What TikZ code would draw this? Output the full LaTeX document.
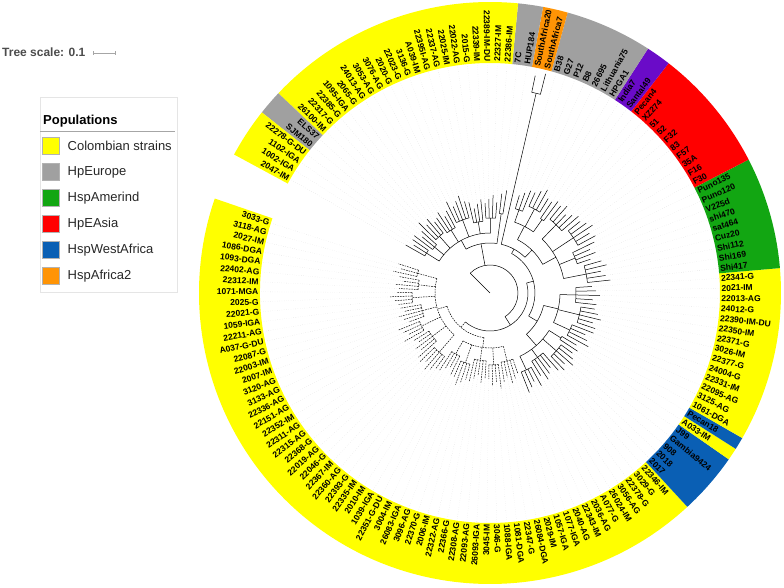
\documentclass[tikz,border=0pt]{standalone}
\usepackage{fontspec}
\setmainfont{Liberation Sans}
\usetikzlibrary{positioning}
\definecolor{popY}{HTML}{FFFF00}
\definecolor{popGr}{HTML}{A0A0A0}
\definecolor{popG}{HTML}{12A612}
\definecolor{popR}{HTML}{FF0000}
\definecolor{popB}{HTML}{0A5FB4}
\definecolor{popO}{HTML}{FF9405}
\definecolor{popP}{HTML}{6A0BC8}
\tikzset{
  tbr/.style={line width=0.5pt},
  dsh/.style={line width=0.5pt, dash pattern=on 1.6pt off 1pt},
  leader/.style={gray!40, line width=0.3pt, dotted},
  leaflabel/.style={font=\bfseries\fontsize{8.5}{9}\selectfont, inner sep=0.4pt},
  legtext/.style={font=\fontsize{13}{15}\selectfont, text=black!85},
}
% angle of leaf number #1 on the circle
\pgfmathdeclarefunction{lang}{1}{\pgfmathparse{162.3+(#1-1)*2.486}}
\begin{document}
\begin{tikzpicture}[x=1pt, y=1pt]
  \useasboundingbox (-490,-295) rectangle (294,293);
  % colour ranges behind the labels
  \foreach \a/\b/\col in {1/61/popY, 62/66/popB, 67/67/popY, 68/68/popB,
      69/82/popY, 83/91/popG, 92/101/popR, 102/103/popP, 104/110/popGr,
      111/112/popO, 113/114/popGr, 115/135/popY, 136/137/popGr, 138/141/popY}{
    \pgfmathsetmacro\ta{lang(\a-0.5)}
    \pgfmathsetmacro\tb{lang(\b+0.5)}
    \fill[\col] (\ta:230) arc[start angle=\ta, end angle=\tb, radius=230]
      -- (\tb:291) arc[start angle=\tb, end angle=\ta, radius=291] -- cycle;
  }
  % root
  \draw[tbr] (0,0) -- (135:28);
  \draw[tbr] (302.5:28) arc[start angle=302.5, end angle=495, radius=28];
  % internal nodes: first/last child, radius, parent radius
  \foreach \ca/\cb/\nr/\np/\sty in {28.125/86.66/38/28/tbr, 15/41.25/45/38/dsh,
      68.125/105.19/45/38/tbr, 61/75.25/55/45/tbr, 98.875/111.5/50/45/tbr,
      92/105.75/60/50/tbr, 113.5/128.25/50/28/tbr,
      2/28/55/45/dsh, 32.5/50/55/45/dsh, 54.5/67.5/70/55/tbr, 70.5/80/70/55/tbr,
      85/99/75/60/tbr, 102.5/109/75/60/tbr, 116.5/140/60/50/tbr}{
    \pgfmathsetmacro\ta{lang(\ca)}
    \pgfmathsetmacro\tb{lang(\cb)}
    \pgfmathsetmacro\tm{(\ta+\tb)/2}
    \draw[\sty] (\tm:\np) -- (\tm:\nr);
    \draw[\sty] (\ta:\nr) arc[start angle=\ta, end angle=\tb, radius=\nr];
  }
  % small clades and their tips
  \foreach \a/\b/\rg/\rs/\sty in {1/3/75/55/dsh, 4/7/72/55/dsh, 8/11/78/55/dsh,
      12/16/70/55/dsh, 17/20/76/55/dsh, 21/25/72/55/dsh, 26/30/78/55/dsh,
      31/34/70/55/dsh, 35/38/74/55/dsh, 39/43/68/55/dsh, 44/47/72/55/dsh,
      48/52/70/55/dsh, 53/56/85/70/tbr, 57/61/80/70/tbr, 62/66/88/70/tbr,
      67/68/84/70/tbr, 69/72/88/70/tbr, 73/77/92/70/tbr, 78/82/86/70/tbr,
      83/87/98/75/tbr, 88/91/92/75/tbr, 92/96/100/75/tbr, 97/101/95/75/tbr,
      102/103/90/75/tbr, 104/107/95/75/tbr, 108/110/88/75/tbr,
      111/112/205/50/tbr, 113/114/80/50/tbr,
      115/118/75/60/tbr, 119/122/72/60/tbr, 123/127/78/60/tbr, 128/131/74/60/tbr,
      132/135/76/60/tbr, 136/138/72/60/tbr, 139/141/75/60/tbr}{
    \pgfmathsetmacro\ta{lang(\a)}
    \pgfmathsetmacro\tb{lang(\b)}
    \pgfmathsetmacro\tm{(\ta+\tb)/2}
    \draw[\sty] (\tm:\rs) -- (\tm:\rg);
    \draw[\sty] (\ta:\rg) arc[start angle=\ta, end angle=\tb, radius=\rg];
    \foreach \k in {\a,...,\b}{
      \pgfmathsetmacro\tk{lang(\k)}
      \pgfmathsetmacro\rt{min(\rg+14+mod(7*\k,11),226)}
      \draw[\sty] (\tk:\rg) -- (\tk:\rt);
      \draw[leader] (\tk:\rt) -- (\tk:229);
    }
  }
  % leaf labels
  \foreach \lab [count=\i] in {3033-G, 3118-AG, 2027-IM, 1086-DGA, 1093-DGA,
      22402-AG, 22312-IM, 1071-MGA, 2025-G, 22021-G, 1059-IGA, 22211-AG,
      A037-G-DU, 22087-G, 22003-IM, 2007-IM, 3120-AG, 3133-AG, 22336-AG,
      22151-AG, 22352-IM, 22311-AG, 22315-AG, 22368-G, 22019-AG, 22046-G,
      22367-IM, 22360-AG, 22393-G, 22335-IM, 2010-IM, 1039-IGA, 22351-G-DU,
      3004-IM, 26083-IGA, 3096-AG, 22370-G, 2006-IM, 22322-AG, 22366-G,
      22308-AG, 22093-AG, 26093-IGA, 3045-IM, 3046-G, 1088-IGA, 1081-DGA,
      22347-G, 26084-DGA, 2029-IM, 1057-IGA, 1077-IGA, 2040-AG, 22343-IM,
      2036-AG, A077-G, 26024-IM, 3056-AG, 22378-G, 3029-G, 22346-IM,
      2017, 2018, 908, Gambia9424, J99, A033-IM, Pecan18, 1061-DGA, 3125-AG,
      22095-AG, 22331-IM, 24004-G, 22377-G, 3026-IM, 22371-G, 22350-IM,
      22390-IM-DU, 24012-G, 22013-AG, 2021-IM, 22341-G, Shi417, Shi169,
      Shi112, Cuz20, sat464, shi470, V225d, Puno120, Puno135, F30, F16, 35A,
      F57, 83, F32, 52, 51, XZ274, Pecan4, Santal49, India7, HPGA1,
      Lithuania75, 26695, B8, P12, G27, B38, SouthAfrica7, SouthAfrica20,
      HUP184, 7C, 22386-IM, 22327-IM, 22389-IM-DU, 22339-IM, 2015-G,
      22022-AG, 22025-IM, 22337-AG, 22395I-AG, A039-IM, 3136-G, 22023-G,
      2020-G, 3076-AG, 3053-AG, 24013-AG, 2065-G, 1095-IGA, 22385-G,
      22317-G, 26100-IM, ELS37, SJM180, 22278-G-DU, 1102-IGA, 1002-IGA,
      2047-IM}{
    \pgfmathsetmacro\ang{lang(\i)}
    \pgfmathtruncatemacro\rside{(\ang>270)&&(\ang<450)}
    \ifnum\rside=1
      \node[leaflabel, anchor=west, rotate=\ang] (lab\i) at (\ang:231) {\lab};
    \else
      \node[leaflabel, anchor=east, rotate=\ang+180] (lab\i) at (\ang:231) {\lab};
    \fi
  }
  % tree scale
  \node[font=\bfseries\fontsize{12}{14}\selectfont, text=black!70, anchor=west,
    inner sep=0] (tscale) at (-488,241) {Tree scale: 0.1};
  \draw[gray!70, line width=0.4pt] (-397,238) -- (-397,242) (-397,240) -- (-375,240)
    (-375,238) -- (-375,242);
  % legend
  \draw[gray!20] (-450,1) rectangle (-313,196);
  \node[font=\bfseries\fontsize{13}{15}\selectfont, anchor=west, inner sep=0]
    (legtitle) at (-447,172) {Populations};
  \draw[gray!70] (-450,162) -- (-315,162);
  \foreach \col/\txt [count=\j] in {popY/Colombian strains, popGr/HpEurope,
      popG/HspAmerind, popR/HpEAsia, popB/HspWestAfrica, popO/HspAfrica2}{
    \node[draw=black!30, fill=\col, minimum size=17pt, inner sep=0] (sq\j)
      at (-439.5,{147-(\j-1)*26}) {};
    \node[legtext, right=5pt of sq\j] (leg\j) {\txt};
  }
\end{tikzpicture}
\end{document}
